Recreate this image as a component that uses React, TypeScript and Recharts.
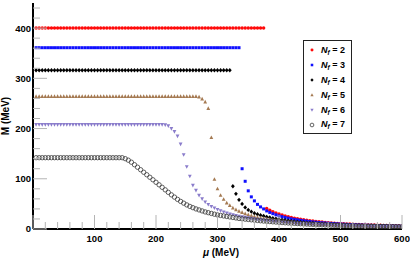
import React from 'react';
import { ScatterChart, Scatter, XAxis, YAxis, Legend } from 'recharts';

// chemical potential grid (MeV)
const muGrid = [
  5, 10, 15, 20, 25, 30, 35, 40, 45, 50,
  55, 60, 65, 70, 75, 80, 85, 90, 95, 100,
  105, 110, 115, 120, 125, 130, 135, 140, 145, 150,
  155, 160, 165, 170, 175, 180, 185, 190, 195, 200,
  205, 210, 215, 220, 225, 230, 235, 240, 245, 250,
  255, 260, 265, 270, 275, 280, 285, 290, 295, 300,
  305, 310, 315, 320, 325, 330, 335, 340, 345, 350,
  355, 360, 365, 370, 375, 380, 385, 390, 395, 400,
  405, 410, 415, 420, 425, 430, 435, 440, 445, 450,
  455, 460, 465, 470, 475, 480, 485, 490, 495, 500,
  505, 510, 515, 520, 525, 530, 535, 540, 545, 550,
  555, 560, 565, 570, 575, 580, 585, 590, 595, 600,
];

const mNf2 = [
  400, 400, 400, 400, 400, 400, 400, 400, 400, 400,
  400, 400, 400, 400, 400, 400, 400, 400, 400, 400,
  400, 400, 400, 400, 400, 400, 400, 400, 400, 400,
  400, 400, 400, 400, 400, 400, 400, 400, 400, 400,
  400, 400, 400, 400, 400, 400, 400, 400, 400, 400,
  400, 400, 400, 400, 400, 400, 400, 400, 400, 400,
  400, 400, 400, 400, 400, 400, 400, 400, 400, 400,
  400, 400, 400, 400, 400, 41, 37.5, 34.5, 32, 30,
  28, 26, 24.5, 23, 21.5, 20.3, 19.2, 18.2, 17.3, 16.5,
  15.7, 15, 14.3, 13.7, 13.1, 12.6, 12.1, 11.6, 11.2, 10.8,
  10.4, 10.1, 9.8, 9.5, 9.2, 8.9, 8.7, 8.4, 8.2, 8,
  7.8, 7.6, 7.4, 7.2, 7, 6.8, 6.7, 6.5, 6.4, 6.2,
];

const mNf3 = [
  361, 361, 361, 361, 361, 361, 361, 361, 361, 361,
  361, 361, 361, 361, 361, 361, 361, 361, 361, 361,
  361, 361, 361, 361, 361, 361, 361, 361, 361, 361,
  361, 361, 361, 361, 361, 361, 361, 361, 361, 361,
  361, 361, 361, 361, 361, 361, 361, 361, 361, 361,
  361, 361, 361, 361, 361, 361, 361, 361, 361, 361,
  361, 361, 361, 361, 361, 361, 361, 120, 95, 76,
  64, 56, 49, 44, 40, 36, 33, 30.5, 28.3, 26.3,
  24.6, 23, 21.6, 20.3, 19.2, 18.2, 17.3, 16.4, 15.6, 14.9,
  14.2, 13.6, 13, 12.5, 12, 11.5, 11.1, 10.7, 10.3, 9.9,
  9.6, 9.3, 9, 8.7, 8.4, 8.2, 7.9, 7.7, 7.5, 7.3,
  7.1, 6.9, 6.7, 6.5, 6.4, 6.2, 6.1, 5.9, 5.8, 5.7,
];

const mNf4 = [
  316, 316, 316, 316, 316, 316, 316, 316, 316, 316,
  316, 316, 316, 316, 316, 316, 316, 316, 316, 316,
  316, 316, 316, 316, 316, 316, 316, 316, 316, 316,
  316, 316, 316, 316, 316, 316, 316, 316, 316, 316,
  316, 316, 316, 316, 316, 316, 316, 316, 316, 316,
  316, 316, 316, 316, 316, 316, 316, 316, 316, 316,
  316, 316, 316, 316, 85, 70, 58, 50, 43, 38,
  34.5, 31.5, 29.5, 27.5, 25.8, 24.2, 22.8, 21.5, 20.3, 19.2,
  18.2, 17.3, 16.4, 15.6, 14.9, 14.2, 13.6, 13, 12.5, 12,
  11.5, 11.1, 10.7, 10.3, 9.9, 9.6, 9.3, 9, 8.7, 8.4,
  8.2, 7.9, 7.7, 7.5, 7.3, 7.1, 6.9, 6.7, 6.5, 6.4,
  6.2, 6.1, 5.9, 5.8, 5.7, 5.5, 5.4, 5.3, 5.2, 5.1,
];

const mNf5 = [
  264, 264, 264, 264, 264, 264, 264, 264, 264, 264,
  264, 264, 264, 264, 264, 264, 264, 264, 264, 264,
  264, 264, 264, 264, 264, 264, 264, 264, 264, 264,
  264, 264, 264, 264, 264, 264, 264, 264, 264, 264,
  264, 264, 264, 264, 264, 264, 264, 264, 264, 264,
  264, 264, 264, 263, 259, 253, 240, 182, 99, 80,
  67, 59, 52, 47, 42, 38.5, 35.5, 33, 30.5, 28.5,
  26.7, 25, 23.6, 22.3, 21.1, 20, 19, 18.1, 17.2, 16.4,
  15.7, 15, 14.4, 13.8, 13.2, 12.7, 12.2, 11.7, 11.3, 10.9,
  10.5, 10.1, 9.8, 9.5, 9.2, 8.9, 8.6, 8.3, 8.1, 7.8,
  7.6, 7.4, 7.2, 7, 6.8, 6.6, 6.4, 6.3, 6.1, 6,
  5.8, 5.7, 5.5, 5.4, 5.3, 5.2, 5.1, 5, 4.9, 4.8,
];

const mNf6 = [
  208, 208, 208, 208, 208, 208, 208, 208, 208, 208,
  208, 208, 208, 208, 208, 208, 208, 208, 208, 208,
  208, 208, 208, 208, 208, 208, 208, 208, 208, 208,
  208, 208, 208, 208, 208, 208, 208, 208, 208, 208,
  208, 208, 207.5, 205.5, 200, 194, 185, 169, 148, 124,
  105, 87, 77, 67, 60, 54, 49, 45, 42, 39,
  36.5, 34, 32, 30, 28.5, 27, 25.5, 24.5, 23.3, 22.3,
  21.3, 20.4, 19.5, 18.7, 17.9, 17.2, 16.5, 15.8, 15.2, 14.6,
  14, 13.5, 13, 12.5, 12, 11.6, 11.2, 10.8, 10.4, 10.1,
  9.7, 9.4, 9.1, 8.8, 8.5, 8.2, 8, 7.7, 7.5, 7.3,
  7.1, 6.9, 6.7, 6.5, 6.3, 6.2, 6, 5.9, 5.7, 5.6,
  5.5, 5.3, 5.2, 5.1, 5, 4.9, 4.8, 4.7, 4.6, 4.5,
];

const mNf7 = [
  142, 142, 142, 142, 142, 142, 142, 142, 142, 142,
  142, 142, 142, 142, 142, 142, 142, 142, 142, 142,
  142, 142, 142, 142, 142, 142, 142, 142, 142, 140,
  137, 133, 128, 123, 118, 113, 108, 103, 98, 93,
  88, 83, 78, 73, 68, 63.5, 59, 55, 51.5, 48,
  45, 42.5, 40, 38, 36, 34, 32.5, 31, 29.5, 28,
  27, 26, 25, 24, 23, 22, 21, 20.3, 19.6, 19,
  18.3, 17.7, 17, 16.4, 15.8, 15.3, 14.8, 14.3, 13.8, 13.3,
  12.8, 12.4, 12, 11.6, 11.2, 10.8, 10.5, 10.1, 9.8, 9.5,
  9.2, 8.9, 8.6, 8.4, 8.1, 7.9, 7.6, 7.4, 7.2, 7,
  6.8, 6.6, 6.4, 6.2, 6.1, 5.9, 5.8, 5.6, 5.5, 5.3,
  5.2, 5.1, 5, 4.9, 4.8, 4.7, 4.6, 4.5, 4.4, 4.3,
];

const flavourLabels = ['2', '3', '4', '5', '6', '7'];
const xTicks = [
  0, 20, 40, 60, 80, 100, 120, 140, 160, 180, 200, 220, 240, 260, 280, 300,
  320, 340, 360, 380, 400, 420, 440, 460, 480, 500, 520, 540, 560, 580, 600,
];
const yTicks = [
  0, 20, 40, 60, 80, 100, 120, 140, 160, 180, 200, 220, 240, 260, 280, 300,
  320, 340, 360, 380, 400, 420, 440,
];
const xLabelValues = [100, 200, 300, 400, 500, 600];
const yLabelValues = [0, 100, 200, 300, 400];

const FONT = "'Liberation Sans', Arial, Helvetica, sans-serif";
const TICK = '#b4b4b4';

type Kind = 'circle' | 'square' | 'diamond' | 'tri' | 'triDown' | 'open';

const styles: { kind: Kind; color: string }[] = [
  { kind: 'circle', color: '#ff0a0a' },
  { kind: 'square', color: '#1010ff' },
  { kind: 'diamond', color: '#000000' },
  { kind: 'tri', color: '#a57a52' },
  { kind: 'triDown', color: '#8a7ccb' },
  { kind: 'open', color: '#3c3c3c' },
];

function marker(kind: Kind, color: string, cx: number, cy: number, s = 1) {
  switch (kind) {
    case 'circle':
      return <circle cx={cx} cy={cy} r={1.75 * s} fill={color} />;
    case 'square':
      return <rect x={cx - 1.5 * s} y={cy - 1.5 * s} width={3 * s} height={3 * s} fill={color} />;
    case 'diamond':
      return (
        <polygon
          points={`${cx},${cy - 2.2 * s} ${cx + 1.9 * s},${cy} ${cx},${cy + 2.2 * s} ${cx - 1.9 * s},${cy}`}
          fill={color}
        />
      );
    case 'tri':
      return (
        <polygon
          points={`${cx},${cy - 2.1 * s} ${cx + 1.9 * s},${cy + 1.5 * s} ${cx - 1.9 * s},${cy + 1.5 * s}`}
          fill={color}
        />
      );
    case 'triDown':
      return (
        <polygon
          points={`${cx},${cy + 2.1 * s} ${cx + 1.9 * s},${cy - 1.5 * s} ${cx - 1.9 * s},${cy - 1.5 * s}`}
          fill={color}
        />
      );
    default:
      return <circle cx={cx} cy={cy} r={2.2 * s} fill="none" stroke={color} strokeWidth={0.8} />;
  }
}

const allM = [mNf2, mNf3, mNf4, mNf5, mNf6, mNf7];
const seriesData = allM.map((arr) => muGrid.map((mu, i) => ({ x: mu, y: arr[i] })));

const makeXTick = (dir: number, showLabel: boolean) => (p: any) => {
  const v = p.payload.value;
  const major = v % 100 === 0;
  const len = major ? 14 : 7;
  return (
    <g>
      <line x1={p.x} x2={p.x} y1={p.y} y2={p.y - dir * len} stroke={TICK} strokeWidth={1} />
      {showLabel && xLabelValues.includes(v) && (
        <text x={p.x} y={p.y + 12.5} textAnchor="middle" fontSize={9.5} fontWeight="bold" fontFamily={FONT} fill="#000">
          {v}
        </text>
      )}
    </g>
  );
};

const makeYTick = (dir: number, showLabel: boolean) => (p: any) => {
  const v = p.payload.value;
  const major = v % 100 === 0;
  const len = major ? 14 : 7;
  return (
    <g>
      <line x1={p.x} x2={p.x + dir * len} y1={p.y} y2={p.y} stroke={TICK} strokeWidth={1} />
      {showLabel && yLabelValues.includes(v) && (
        <text x={p.x - 2} y={p.y} dy="0.36em" textAnchor="end" fontSize={9.5} fontWeight="bold" fontFamily={FONT} fill="#000">
          {v}
        </text>
      )}
    </g>
  );
};

const LegendBox = () => (
  <div
    style={{
      boxSizing: 'border-box',
      width: 49,
      height: 94,
      border: '1.5px solid #222',
      background: '#fff',
      paddingTop: 2,
      fontFamily: FONT,
    }}
  >
    {flavourLabels.map((lab, i) => (
      <div key={lab} style={{ height: 14.9, display: 'flex', alignItems: 'center' }}>
        <svg width={14} height={10} style={{ marginLeft: 1, display: 'block' }}>
          {marker(styles[i].kind, styles[i].color, 7, 5, 0.85)}
        </svg>
        <span style={{ marginLeft: 2, fontSize: 9, fontWeight: 'bold', whiteSpace: 'nowrap', lineHeight: '10px' }}>
          <i>N</i>
          <i style={{ fontSize: 6.5, position: 'relative', top: 2 }}>f</i>
          {' = ' + lab}
        </span>
      </div>
    ))}
  </div>
);

export default function App() {
  return (
    <div style={{ position: 'absolute', left: 0, top: 0, width: 410, height: 259, background: '#fff' }}>
      <ScatterChart width={410} height={259} margin={{ top: 3, right: 8, bottom: 0, left: 0 }}>
        <XAxis
          xAxisId="b"
          type="number"
          dataKey="x"
          domain={[0, 600]}
          ticks={xTicks}
          interval={0}
          tickSize={0}
          tickMargin={0}
          height={30}
          axisLine={{ stroke: '#000', strokeWidth: 2 }}
          tickLine={false}
          tick={makeXTick(1, true)}
          allowDataOverflow
        />
        <XAxis
          xAxisId="t"
          orientation="top"
          type="number"
          domain={[0, 600]}
          ticks={xTicks}
          interval={0}
          tickSize={0}
          tickMargin={0}
          height={0}
          axisLine={{ stroke: '#000', strokeWidth: 2 }}
          tickLine={false}
          tick={makeXTick(-1, false)}
          allowDataOverflow
        />
        <YAxis
          yAxisId="l"
          type="number"
          dataKey="y"
          domain={[0, 450]}
          ticks={yTicks}
          interval={0}
          tickSize={0}
          tickMargin={0}
          width={33}
          axisLine={{ stroke: '#000', strokeWidth: 2 }}
          tickLine={false}
          tick={makeYTick(1, true)}
          allowDataOverflow
        />
        <YAxis
          yAxisId="r"
          orientation="right"
          type="number"
          domain={[0, 450]}
          ticks={yTicks}
          interval={0}
          tickSize={0}
          tickMargin={0}
          width={0}
          axisLine={{ stroke: '#000', strokeWidth: 2 }}
          tickLine={false}
          tick={makeYTick(-1, false)}
          allowDataOverflow
        />
        {seriesData.map((d, i) => (
          <Scatter
            key={flavourLabels[i]}
            name={'Nf = ' + flavourLabels[i]}
            data={d}
            xAxisId="b"
            yAxisId="l"
            isAnimationActive={false}
            shape={(p: any) => marker(styles[i].kind, styles[i].color, p.cx, p.cy)}
          />
        ))}
        <Legend
          layout="vertical"
          align="center"
          verticalAlign="middle"
          wrapperStyle={{ left: 303, top: 40, width: 49, height: 94 }}
          content={() => <LegendBox />}
        />
      </ScatterChart>
      <div
        style={{
          position: 'absolute',
          left: 221,
          top: 253,
          transform: 'translate(-50%, -50%)',
          fontFamily: FONT,
          fontWeight: 'bold',
          fontSize: 10,
          whiteSpace: 'nowrap',
          lineHeight: '12px',
        }}
      >
        <i>μ</i> (MeV)
      </div>
      <div
        style={{
          position: 'absolute',
          left: 6,
          top: 116,
          transform: 'translate(-50%, -50%) rotate(-90deg)',
          fontFamily: FONT,
          fontWeight: 'bold',
          fontSize: 10,
          whiteSpace: 'nowrap',
          lineHeight: '12px',
        }}
      >
        M (MeV)
      </div>
    </div>
  );
}
